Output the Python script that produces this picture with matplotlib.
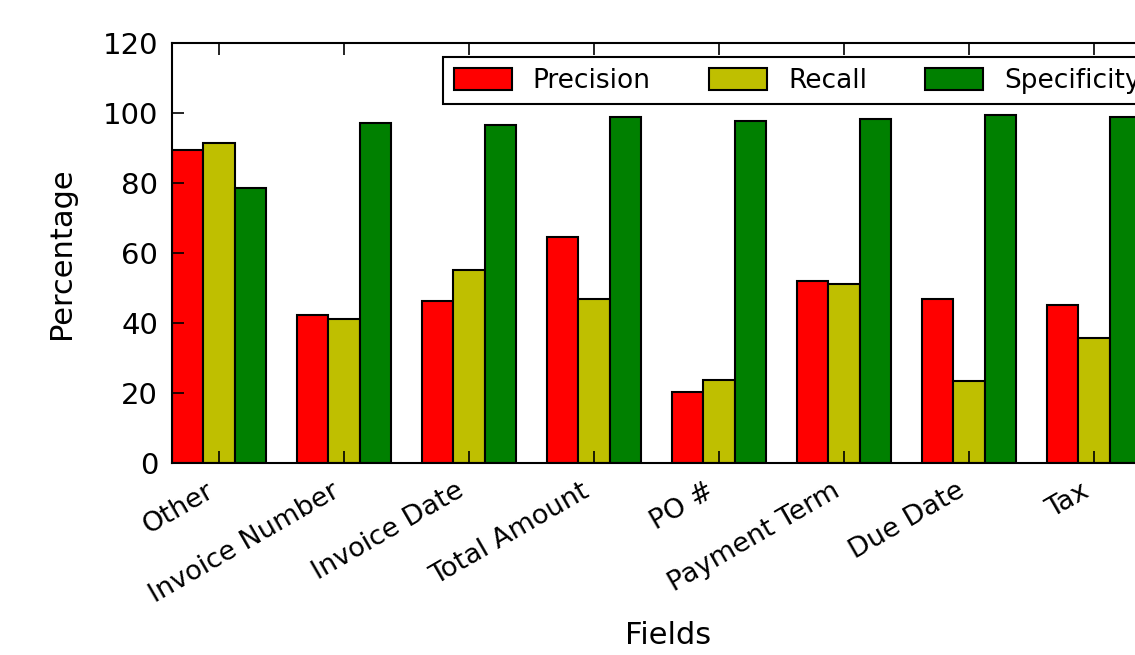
import numpy as np
import matplotlib
matplotlib.use('Agg')
import matplotlib.pyplot as plt

fields = ['Other', 'Invoice Number', 'Invoice Date', 'Total Amount',
          'PO #', 'Payment Term', 'Due Date', 'Tax']
precision = [89.3, 42.2, 46.2, 64.4, 20.3, 52.0, 46.7, 45.0]
recall = [91.5, 41.0, 55.1, 46.7, 23.7, 51.0, 23.4, 35.7]
specificity = [78.4, 97.1, 96.6, 98.9, 97.7, 98.3, 99.4, 98.9]

W, H = 1135, 655
fig = plt.figure(figsize=(W / 100, H / 100), dpi=100, facecolor='white')
# axes runs past the right edge of the picture (reference is cropped)
ax = fig.add_axes([172 / W, 1 - 462.7 / H, (1164 - 172) / W, (462.7 - 43) / H])

x = np.arange(len(fields))
width = 0.25
bar_kw = dict(edgecolor='black', linewidth=1.5)
ax.bar(x - width, precision, width, color='#ff0000', label='Precision', **bar_kw)
ax.bar(x, recall, width, color='#bfbf00', label='Recall', **bar_kw)
ax.bar(x + width, specificity, width, color='#008000', label='Specificity', **bar_kw)

ax.set_xlim(-0.375, 7.56)
ax.set_ylim(0, 120)
ax.set_yticks(np.arange(0, 121, 20))
ax.set_xticks(x)
ax.set_xticklabels(fields, rotation=30, ha='right')

ax.tick_params(direction='in', length=8.5, width=1.2, top=True, right=True,
               labelsize=21, pad=10)
ax.tick_params(axis='x', labelsize=19.5, pad=11)
for s in ax.spines.values():
    s.set_linewidth(1.5)

ax.set_xlabel('Fields', fontsize=22)
ax.xaxis.set_label_coords(0.5, -0.376)
ax.set_ylabel('Percentage', fontsize=22, labelpad=19)

leg = ax.legend(loc='upper left', bbox_to_anchor=(443 / W, 1 - 57.3 / H),
                bbox_transform=fig.transFigure, ncol=3, fontsize=19,
                handlelength=2.2, handleheight=0.9, handletextpad=0.8,
                columnspacing=2.2, borderpad=0.4, borderaxespad=0,
                fancybox=False, framealpha=1)
leg.get_frame().set_edgecolor('black')
leg.get_frame().set_linewidth(1.5)

fig.savefig('out.png', dpi=100, facecolor='white')
